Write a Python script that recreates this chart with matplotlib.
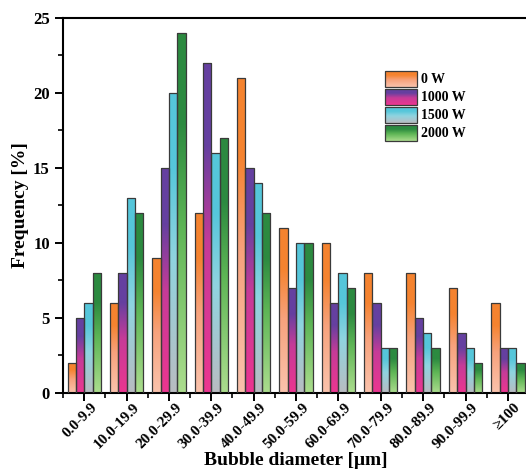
#!/usr/bin/env python3
"""Bubble diameter distribution, grouped bars with gradient fills."""

import numpy as np
import matplotlib
matplotlib.use("Agg")
import matplotlib.pyplot as plt
import matplotlib.transforms as mtransforms
from matplotlib.colors import LinearSegmentedColormap
from matplotlib.patches import Rectangle
from matplotlib.ticker import MultipleLocator

plt.rcParams["font.family"] = ["Liberation Serif", "DejaVu Serif"]
plt.rcParams["font.weight"] = "bold"

categories = ["0.0-9.9", "10.0-19.9", "20.0-29.9", "30.0-39.9", "40.0-49.9",
              "50.0-59.9", "60.0-69.9", "70.0-79.9", "80.0-89.9", "90.0-99.9",
              "\u2265100"]
series_names = ["0 W", "1000 W", "1500 W", "2000 W"]
freq_0w = [2, 6, 9, 12, 21, 11, 10, 8, 8, 7, 6]
freq_1000w = [5, 8, 15, 22, 15, 7, 6, 6, 5, 4, 3]
freq_1500w = [6, 13, 20, 16, 14, 10, 8, 3, 4, 3, 3]
freq_2000w = [8, 12, 24, 17, 12, 10, 7, 3, 3, 2, 2]

# gradient stops: bottom -> middle -> top
GRADS = [
    ["#fac3ad", "#f7a27c", "#f5832f"],
    ["#ec3690", "#c63b98", "#6540a0"],
    ["#b9bcc1", "#8fd4e0", "#55c6da"],
    ["#acdd8e", "#5fb656", "#2c8a40"],
]


def _cmap(stops):
    return LinearSegmentedColormap.from_list(
        "g", [(0, stops[0]), (0.45, stops[1]), (0.75, stops[2]), (1, stops[2])])


def main():
    fig = plt.figure(figsize=(5.26, 4.73), dpi=100)
    ax = fig.add_axes([0.1198, 0.1698, 0.886, 0.793])

    data = [freq_0w, freq_1000w, freq_1500w, freq_2000w]
    x = np.arange(len(categories))
    w = 0.197
    grad = np.linspace(0, 1, 256).reshape(-1, 1)

    for i, vals in enumerate(data):
        cmap = _cmap(GRADS[i])
        bars = ax.bar(x + (i - 1.5) * w, vals, w, facecolor="none",
                      edgecolor="#3a3a3a", linewidth=0.9, zorder=3)
        for b in bars:
            bx, by = b.get_x(), b.get_y()
            bw, bh = b.get_width(), b.get_height()
            im = ax.imshow(grad, extent=[bx, bx + bw, by, by + bh], origin="lower",
                           cmap=cmap, aspect="auto", zorder=2, interpolation="bilinear")
            im.set_clip_path(b)

    ax.set_xlim(-0.5, len(categories) - 0.5)
    ax.set_ylim(0, 25)
    ax.set_xticks(x)
    ax.set_xticklabels([])
    # rotated category labels, nudged right of the tick like the original
    trans = ax.get_xaxis_transform() + mtransforms.ScaledTranslation(
        6 / 100, -8 / 100, fig.dpi_scale_trans)
    for xi, cat in zip(x, categories):
        ax.text(xi, 0, cat, transform=trans, rotation=45, ha="right", va="top",
                rotation_mode="anchor", fontsize=11, fontweight="bold")
    ax.xaxis.set_minor_locator(MultipleLocator(1, offset=0.5))
    ax.yaxis.set_major_locator(MultipleLocator(5))
    ax.yaxis.set_minor_locator(MultipleLocator(2.5))
    ax.tick_params(axis="both", which="major", direction="out", length=6, width=1.4)
    ax.tick_params(axis="y", which="major", labelsize=12)
    ax.tick_params(axis="both", which="minor", direction="out", length=3.5, width=1.2)
    ax.tick_params(top=False, right=False, which="both")
    for lab in ax.get_yticklabels():
        lab.set_fontweight("bold")
    for s in ax.spines.values():
        s.set_linewidth(1.5)

    ax.set_xlabel("Bubble diameter [\u03bcm]", fontsize=14, fontweight="bold")
    ax.xaxis.set_label_coords(0.499, -0.157)
    ax.set_ylabel("Frequency [%]", fontsize=14, fontweight="bold")
    ax.yaxis.set_label_coords(-0.072, 0.5)

    # legend drawn by hand so the keys carry the gradient
    lx, lw, lh, top, step = 0.691, 0.068, 0.042, 0.857, 0.048
    for i, name in enumerate(series_names):
        y0 = top - i * step - lh
        ax.imshow(grad, extent=[lx, lx + lw, y0, y0 + lh], origin="lower",
                  cmap=_cmap(GRADS[i]), aspect="auto", transform=ax.transAxes,
                  zorder=4, interpolation="bilinear")
        ax.add_patch(Rectangle((lx, y0), lw, lh, transform=ax.transAxes, fill=False,
                               edgecolor="#3a3a3a", linewidth=0.9, zorder=5))
        ax.text(lx + lw + 0.01, y0 + lh / 2, name, transform=ax.transAxes,
                fontsize=10, fontweight="bold", va="center", ha="left")

    ax.set_xlim(-0.5, len(categories) - 0.5)
    ax.set_ylim(0, 25)

    fig.savefig("out.png", dpi=100, facecolor="white")
    plt.close(fig)


if __name__ == "__main__":
    main()
